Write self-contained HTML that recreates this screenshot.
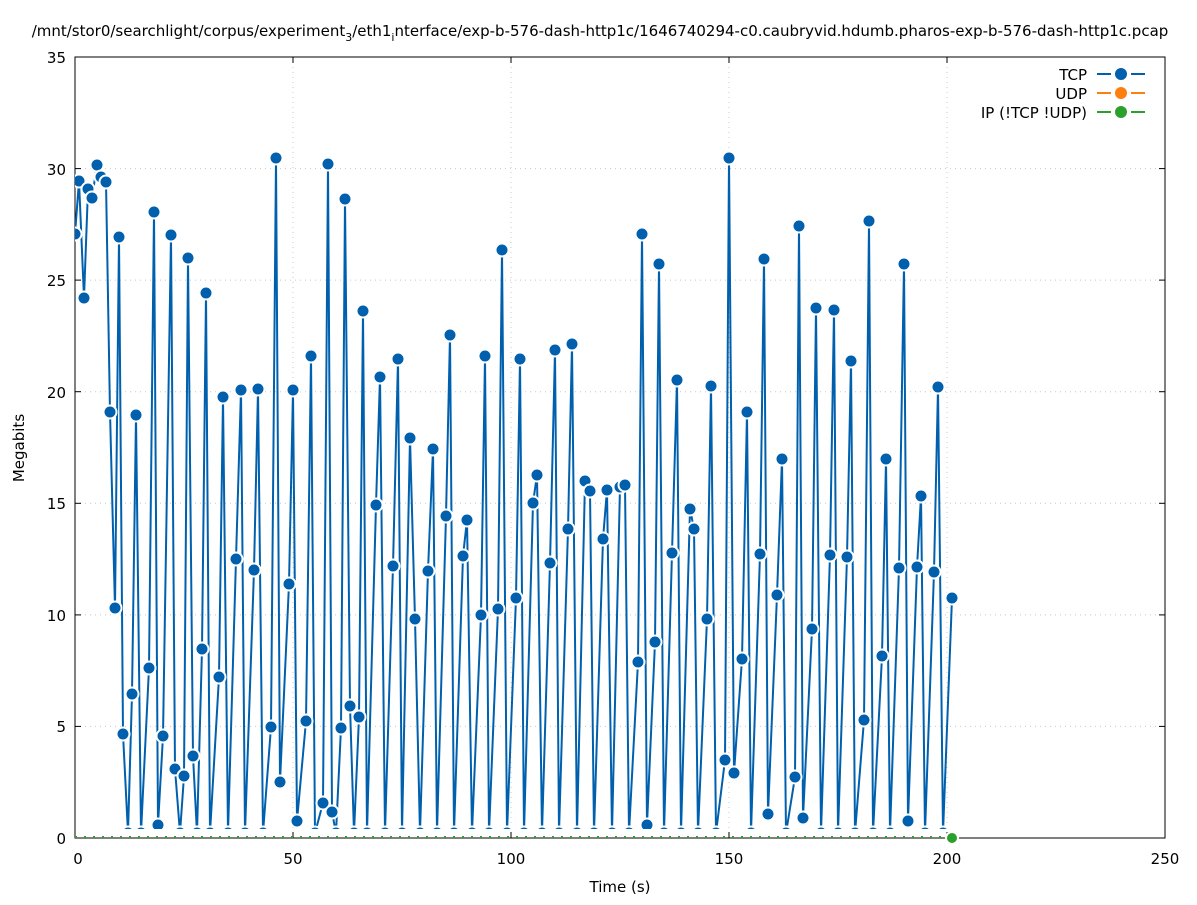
<!DOCTYPE html>
<html><head><meta charset="utf-8"><style>
body{margin:0;background:#fff;}
text{font-family:"DejaVu Sans","Liberation Sans",sans-serif;font-size:15px;fill:#000;}
</style></head><body>
<svg width="1197" height="900" xmlns="http://www.w3.org/2000/svg">
<rect width="1197" height="900" fill="#fff"/>
<text x="600" y="36" text-anchor="middle" font-size="16">/mnt/stor0/searchlight/corpus/experiment<tspan font-size="11" dy="5">3</tspan><tspan dy="-5">/eth1</tspan><tspan font-size="11" dy="5">i</tspan><tspan dy="-5">nterface/exp-b-576-dash-http1c/1646740294-c0.caubryvid.hdumb.pharos-exp-b-576-dash-http1c.pcap</tspan></text>
<g stroke="#c8c8c8" stroke-dasharray="1,4" stroke-width="1">
<line x1="293" y1="57" x2="293" y2="838"/><line x1="511" y1="57" x2="511" y2="838"/><line x1="729" y1="57" x2="729" y2="838"/><line x1="947" y1="57" x2="947" y2="838"/>
<line x1="75" y1="726.4" x2="1165" y2="726.4"/><line x1="75" y1="614.9" x2="1165" y2="614.9"/><line x1="75" y1="503.3" x2="1165" y2="503.3"/><line x1="75" y1="391.7" x2="1165" y2="391.7"/><line x1="75" y1="280.1" x2="1165" y2="280.1"/><line x1="75" y1="168.6" x2="1165" y2="168.6"/>
</g>
<rect x="75" y="57" width="1090" height="781" fill="none" stroke="#000" stroke-width="1"/>
<g stroke="#000">
<line x1="293" y1="838" x2="293" y2="832"/><line x1="511" y1="838" x2="511" y2="832"/><line x1="729" y1="838" x2="729" y2="832"/><line x1="947" y1="838" x2="947" y2="832"/>
<line x1="293" y1="57" x2="293" y2="63"/><line x1="511" y1="57" x2="511" y2="63"/><line x1="729" y1="57" x2="729" y2="63"/><line x1="947" y1="57" x2="947" y2="63"/>
<line x1="75" y1="726.4" x2="81" y2="726.4"/><line x1="75" y1="614.9" x2="81" y2="614.9"/><line x1="75" y1="503.3" x2="81" y2="503.3"/><line x1="75" y1="391.7" x2="81" y2="391.7"/><line x1="75" y1="280.1" x2="81" y2="280.1"/><line x1="75" y1="168.6" x2="81" y2="168.6"/>
<line x1="1165" y1="726.4" x2="1159" y2="726.4"/><line x1="1165" y1="614.9" x2="1159" y2="614.9"/><line x1="1165" y1="503.3" x2="1159" y2="503.3"/><line x1="1165" y1="391.7" x2="1159" y2="391.7"/><line x1="1165" y1="280.1" x2="1159" y2="280.1"/><line x1="1165" y1="168.6" x2="1159" y2="168.6"/>
</g>
<g text-anchor="end">
<text x="66" y="844">0</text><text x="66" y="732">5</text><text x="66" y="621">10</text><text x="66" y="509">15</text><text x="66" y="398">20</text><text x="66" y="286">25</text><text x="66" y="175">30</text><text x="66" y="63">35</text>
</g>
<g text-anchor="middle">
<text x="78" y="864">0</text><text x="293" y="864">50</text><text x="511" y="864">100</text><text x="729" y="864">150</text><text x="947" y="864">200</text><text x="1165" y="864">250</text>
<text x="620" y="892">Time (s)</text>
</g>
<text transform="translate(24,448) rotate(-90)" text-anchor="middle">Megabits</text>
<g text-anchor="end">
<text x="1087" y="80">TCP</text><text x="1087" y="99">UDP</text><text x="1087" y="118">IP (!TCP  !UDP)</text>
</g>
<g stroke-width="2">
<line x1="1097" y1="74" x2="1111" y2="74" stroke="#0060ad"/><line x1="1131" y1="74" x2="1145" y2="74" stroke="#0060ad"/><circle cx="1121" cy="74" r="6" fill="#0060ad"/>
<line x1="1097" y1="93" x2="1111" y2="93" stroke="#ff7f0e"/><line x1="1131" y1="93" x2="1145" y2="93" stroke="#ff7f0e"/><circle cx="1121" cy="93" r="6" fill="#ff7f0e"/>
<line x1="1097" y1="112" x2="1111" y2="112" stroke="#2ca02c"/><line x1="1131" y1="112" x2="1145" y2="112" stroke="#2ca02c"/><circle cx="1121" cy="112" r="6" fill="#2ca02c"/>
</g>
<line x1="75" y1="837" x2="952" y2="837" stroke="#2ca02c" stroke-width="2" stroke-dasharray="2,7"/>
<defs><clipPath id="c"><rect x="75" y="57" width="1090" height="772"/></clipPath></defs>
<g clip-path="url(#c)">
<polyline fill="none" stroke="#0060ad" stroke-width="2" points="75,234 79,181 84,298 88,189 92,198 97,165 101,177 106,182 110,412 115,608 119,237 123,734 128,833 132,694 136,415 141,833 149,668 154,212 158,825 163,736 171,235 175,769 180,833 184,776 188,258 193,756 197,833 202,649 206,293 210,833 219,677 223,397 228,833 236,559 241,390 245,833 254,570 258,389 263,833 271,727 276,158 280,782 289,584 293,390 297,821 306,721 311,356 315,833 323,803 328,164 332,812 336,833 341,728 345,199 350,706 354,833 359,717 363,311 367,833 376,505 380,377 385,833 393,566 398,359 402,833 410,438 415,619 420,833 428,571 433,449 437,833 446,516 450,335 454,833 463,556 467,520 472,833 481,615 485,356 489,833 498,609 502,250 507,833 516,598 520,359 524,833 533,503 537,475 542,833 550,563 555,350 559,833 568,529 572,344 577,833 585,481 590,491 594,833 603,539 607,490 612,833 620,487 625,485 629,833 638,662 642,234 647,825 655,642 659,264 664,833 672,553 677,380 681,833 690,509 694,529 698,833 707,619 711,386 716,833 725,760 729,158 734,773 742,659 747,412 751,833 760,554 764,259 768,814 777,595 782,459 786,833 795,777 799,226 803,818 812,629 816,308 821,833 830,555 834,310 838,833 847,557 851,361 855,833 864,720 869,221 873,833 882,656 886,459 890,833 899,568 904,264 908,821 917,567 921,496 925,833 934,572 938,387 943,833 952,598"/>
<g fill="#0060ad" stroke="#fff" stroke-width="2">
<circle cx="75" cy="234" r="6.5"/><circle cx="79" cy="181" r="6.5"/><circle cx="84" cy="298" r="6.5"/><circle cx="88" cy="189" r="6.5"/><circle cx="92" cy="198" r="6.5"/><circle cx="97" cy="165" r="6.5"/><circle cx="101" cy="177" r="6.5"/><circle cx="106" cy="182" r="6.5"/><circle cx="110" cy="412" r="6.5"/><circle cx="115" cy="608" r="6.5"/><circle cx="119" cy="237" r="6.5"/><circle cx="123" cy="734" r="6.5"/><circle cx="128" cy="833" r="6.5"/><circle cx="132" cy="694" r="6.5"/><circle cx="136" cy="415" r="6.5"/><circle cx="141" cy="833" r="6.5"/><circle cx="149" cy="668" r="6.5"/><circle cx="154" cy="212" r="6.5"/><circle cx="158" cy="825" r="6.5"/><circle cx="163" cy="736" r="6.5"/><circle cx="171" cy="235" r="6.5"/><circle cx="175" cy="769" r="6.5"/><circle cx="180" cy="833" r="6.5"/><circle cx="184" cy="776" r="6.5"/><circle cx="188" cy="258" r="6.5"/><circle cx="193" cy="756" r="6.5"/><circle cx="197" cy="833" r="6.5"/><circle cx="202" cy="649" r="6.5"/><circle cx="206" cy="293" r="6.5"/><circle cx="210" cy="833" r="6.5"/><circle cx="219" cy="677" r="6.5"/><circle cx="223" cy="397" r="6.5"/><circle cx="228" cy="833" r="6.5"/><circle cx="236" cy="559" r="6.5"/><circle cx="241" cy="390" r="6.5"/><circle cx="245" cy="833" r="6.5"/><circle cx="254" cy="570" r="6.5"/><circle cx="258" cy="389" r="6.5"/><circle cx="263" cy="833" r="6.5"/><circle cx="271" cy="727" r="6.5"/><circle cx="276" cy="158" r="6.5"/><circle cx="280" cy="782" r="6.5"/><circle cx="289" cy="584" r="6.5"/><circle cx="293" cy="390" r="6.5"/><circle cx="297" cy="821" r="6.5"/><circle cx="306" cy="721" r="6.5"/><circle cx="311" cy="356" r="6.5"/><circle cx="315" cy="833" r="6.5"/><circle cx="323" cy="803" r="6.5"/><circle cx="328" cy="164" r="6.5"/><circle cx="332" cy="812" r="6.5"/><circle cx="336" cy="833" r="6.5"/><circle cx="341" cy="728" r="6.5"/><circle cx="345" cy="199" r="6.5"/><circle cx="350" cy="706" r="6.5"/><circle cx="354" cy="833" r="6.5"/><circle cx="359" cy="717" r="6.5"/><circle cx="363" cy="311" r="6.5"/><circle cx="367" cy="833" r="6.5"/><circle cx="376" cy="505" r="6.5"/><circle cx="380" cy="377" r="6.5"/><circle cx="385" cy="833" r="6.5"/><circle cx="393" cy="566" r="6.5"/><circle cx="398" cy="359" r="6.5"/><circle cx="402" cy="833" r="6.5"/><circle cx="410" cy="438" r="6.5"/><circle cx="415" cy="619" r="6.5"/><circle cx="420" cy="833" r="6.5"/><circle cx="428" cy="571" r="6.5"/><circle cx="433" cy="449" r="6.5"/><circle cx="437" cy="833" r="6.5"/><circle cx="446" cy="516" r="6.5"/><circle cx="450" cy="335" r="6.5"/><circle cx="454" cy="833" r="6.5"/><circle cx="463" cy="556" r="6.5"/><circle cx="467" cy="520" r="6.5"/><circle cx="472" cy="833" r="6.5"/><circle cx="481" cy="615" r="6.5"/><circle cx="485" cy="356" r="6.5"/><circle cx="489" cy="833" r="6.5"/><circle cx="498" cy="609" r="6.5"/><circle cx="502" cy="250" r="6.5"/><circle cx="507" cy="833" r="6.5"/><circle cx="516" cy="598" r="6.5"/><circle cx="520" cy="359" r="6.5"/><circle cx="524" cy="833" r="6.5"/><circle cx="533" cy="503" r="6.5"/><circle cx="537" cy="475" r="6.5"/><circle cx="542" cy="833" r="6.5"/><circle cx="550" cy="563" r="6.5"/><circle cx="555" cy="350" r="6.5"/><circle cx="559" cy="833" r="6.5"/><circle cx="568" cy="529" r="6.5"/><circle cx="572" cy="344" r="6.5"/><circle cx="577" cy="833" r="6.5"/><circle cx="585" cy="481" r="6.5"/><circle cx="590" cy="491" r="6.5"/><circle cx="594" cy="833" r="6.5"/><circle cx="603" cy="539" r="6.5"/><circle cx="607" cy="490" r="6.5"/><circle cx="612" cy="833" r="6.5"/><circle cx="620" cy="487" r="6.5"/><circle cx="625" cy="485" r="6.5"/><circle cx="629" cy="833" r="6.5"/><circle cx="638" cy="662" r="6.5"/><circle cx="642" cy="234" r="6.5"/><circle cx="647" cy="825" r="6.5"/><circle cx="655" cy="642" r="6.5"/><circle cx="659" cy="264" r="6.5"/><circle cx="664" cy="833" r="6.5"/><circle cx="672" cy="553" r="6.5"/><circle cx="677" cy="380" r="6.5"/><circle cx="681" cy="833" r="6.5"/><circle cx="690" cy="509" r="6.5"/><circle cx="694" cy="529" r="6.5"/><circle cx="698" cy="833" r="6.5"/><circle cx="707" cy="619" r="6.5"/><circle cx="711" cy="386" r="6.5"/><circle cx="716" cy="833" r="6.5"/><circle cx="725" cy="760" r="6.5"/><circle cx="729" cy="158" r="6.5"/><circle cx="734" cy="773" r="6.5"/><circle cx="742" cy="659" r="6.5"/><circle cx="747" cy="412" r="6.5"/><circle cx="751" cy="833" r="6.5"/><circle cx="760" cy="554" r="6.5"/><circle cx="764" cy="259" r="6.5"/><circle cx="768" cy="814" r="6.5"/><circle cx="777" cy="595" r="6.5"/><circle cx="782" cy="459" r="6.5"/><circle cx="786" cy="833" r="6.5"/><circle cx="795" cy="777" r="6.5"/><circle cx="799" cy="226" r="6.5"/><circle cx="803" cy="818" r="6.5"/><circle cx="812" cy="629" r="6.5"/><circle cx="816" cy="308" r="6.5"/><circle cx="821" cy="833" r="6.5"/><circle cx="830" cy="555" r="6.5"/><circle cx="834" cy="310" r="6.5"/><circle cx="838" cy="833" r="6.5"/><circle cx="847" cy="557" r="6.5"/><circle cx="851" cy="361" r="6.5"/><circle cx="855" cy="833" r="6.5"/><circle cx="864" cy="720" r="6.5"/><circle cx="869" cy="221" r="6.5"/><circle cx="873" cy="833" r="6.5"/><circle cx="882" cy="656" r="6.5"/><circle cx="886" cy="459" r="6.5"/><circle cx="890" cy="833" r="6.5"/><circle cx="899" cy="568" r="6.5"/><circle cx="904" cy="264" r="6.5"/><circle cx="908" cy="821" r="6.5"/><circle cx="917" cy="567" r="6.5"/><circle cx="921" cy="496" r="6.5"/><circle cx="925" cy="833" r="6.5"/><circle cx="934" cy="572" r="6.5"/><circle cx="938" cy="387" r="6.5"/><circle cx="943" cy="833" r="6.5"/><circle cx="952" cy="598" r="6.5"/>
</g>
</g>
<circle cx="952" cy="838" r="6" fill="#2ca02c" stroke="#fff" stroke-width="2"/>
</svg>
</body></html>
